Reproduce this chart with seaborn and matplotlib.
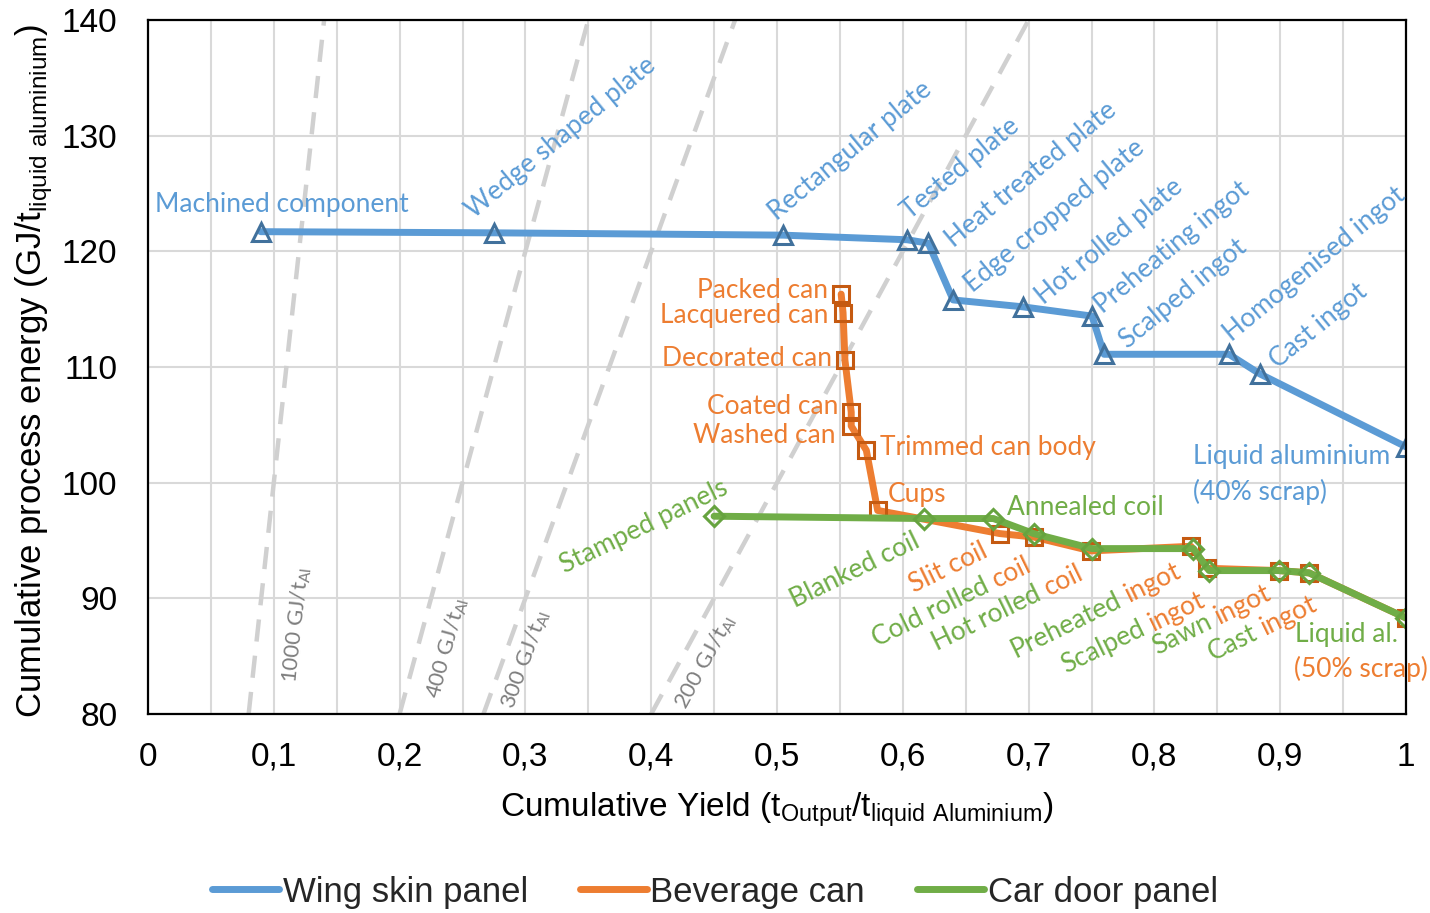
import numpy as np
import matplotlib
matplotlib.use("Agg")
import matplotlib.pyplot as plt
import seaborn as sns
from matplotlib.lines import Line2D

# ---------------- data ----------------
wing_stages = ["Machined component", "Wedge shaped plate", "Rectangular plate", "Tested plate",
               "Heat treated plate", "Edge cropped plate", "Hot rolled plate", "Preheating ingot",
               "Scalped ingot", "Homogenised ingot", "Cast ingot", "Liquid aluminium"]
wing_yield = [0.0895, 0.275, 0.5047, 0.6035, 0.6203, 0.6400, 0.6956, 0.7504, 0.7600, 0.8593, 0.8839, 1.000]
wing_energy = [121.7, 121.6, 121.4, 121.0, 120.7, 115.8, 115.2, 114.4, 111.1, 111.1, 109.4, 103.1]

can_stages = ["Packed can", "Lacquered can", "Decorated can", "Coated can", "Washed can",
              "Trimmed can body", "Cups", "Slit coil", "Cold rolled coil", "Hot rolled coil",
              "Preheated ingot", "Scalped ingot", "Sawn ingot", "Cast ingot", "Liquid al."]
can_yield = [0.551, 0.5525, 0.554, 0.559, 0.559, 0.571, 0.580, 0.677, 0.704, 0.7495,
             0.829, 0.842, 0.899, 0.923, 1.000]
can_energy = [116.3, 114.7, 110.6, 106.1, 104.9, 102.8, 97.6, 95.6, 95.3, 94.1,
              94.5, 92.6, 92.4, 92.2, 88.3]

door_stages = ["Stamped panels", "Blanked coil", "Annealed coil", "Cold rolled coil", "Hot rolled coil",
               "Preheated ingot", "Scalped ingot", "Sawn ingot", "Cast ingot", "Liquid al."]
door_yield = [0.450, 0.617, 0.672, 0.704, 0.7505, 0.831, 0.8435, 0.899, 0.923, 1.000]
door_energy = [97.1, 96.9, 96.9, 95.6, 94.3, 94.3, 92.4, 92.4, 92.2, 88.3]

iso_energy = [1000, 400, 300, 200]          # GJ per tonne of aluminium output
iso_label_energy = [87.7, 85.7, 84.7, 84.5]  # height at which each iso-line is labelled

x_ticks = [0.0, 0.1, 0.2, 0.3, 0.4, 0.5, 0.6, 0.7, 0.8, 0.9, 1.0]
x_tick_labels = ["0", "0,1", "0,2", "0,3", "0,4", "0,5", "0,6", "0,7", "0,8", "0,9", "1"]
y_ticks = [80, 90, 100, 110, 120, 130, 140]

series_names = ["Wing skin panel", "Beverage can", "Car door panel"]

# ---------------- style ----------------
BLUE, ORANGE, GREEN = "#5b9bd5", "#ed7d31", "#70ad47"
BLUE_EDGE, ORANGE_EDGE, GREEN_EDGE = "#41719c", "#c55a11", "#66a33f"
LABEL_FONT = "Lato"
LABEL_SIZE = 19

sns.set_theme(style="white")
plt.rcParams["font.family"] = ["Liberation Sans", "DejaVu Sans"]
plt.rcParams["mathtext.fontset"] = "custom"
plt.rcParams["mathtext.sf"] = "Liberation Sans"
plt.rcParams["mathtext.rm"] = "Lato"

W, H = 1430, 913
fig = plt.figure(figsize=(W / 100, H / 100), dpi=100)
ax = fig.add_axes([148 / W, 1 - 714 / H, (1406 - 148) / W, (714 - 20) / H])
renderer = fig.canvas.get_renderer()

# ---------------- series ----------------
series = [
    (wing_yield, wing_energy, BLUE, BLUE_EDGE, "^", 13),
    (can_yield, can_energy, ORANGE, ORANGE_EDGE, "s", 11),
    (door_yield, door_energy, GREEN, GREEN_EDGE, "D", 10),
]
for k, (xs, ys, col, edge, mk, ms) in enumerate(series):
    sns.lineplot(x=xs, y=ys, ax=ax, sort=False, estimator=None, color=col, lw=5,
                 solid_joinstyle="round", solid_capstyle="round",
                 marker=mk, markersize=ms, markerfacecolor="none",
                 markeredgecolor=edge, markeredgewidth=2.2, zorder=3 + k * 0.2,
                 legend=False)

ax.set_xlim(0, 1)
ax.set_ylim(80, 140)
ax.set_xticks(x_ticks)
ax.set_xticklabels(x_tick_labels)
ax.set_xticks(np.arange(0.05, 1.0, 0.1), minor=True)
ax.set_yticks(y_ticks)
ax.grid(which="both", color="#d9d9d9", lw=1.5, zorder=0)
ax.set_axisbelow(True)
ax.tick_params(which="both", length=0, labelsize=24, colors="black")
ax.tick_params(axis="x", pad=20)
ax.tick_params(axis="y", pad=22)
for sp in ax.spines.values():
    sp.set_color("black")
    sp.set_linewidth(1.6)
    sp.set_zorder(6)

ax.set_xlabel(r"Cumulative Yield (t$_{\mathsf{Output}}$/t$_{\mathsf{liquid\ Aluminium}}$)",
              fontsize=24, color="black", va="top")
ax.xaxis.set_label_coords(0.5, (714 - 790) / 694)
ax.set_ylabel(r"Cumulative process energy (GJ/t$_{\mathsf{liquid\ aluminium}}$)",
              fontsize=25, color="black")
ax.yaxis.set_label_coords((55 - 148) / 1258, 0.494)

# ---------------- iso-energy guide lines ----------------
iso_label_shift = [38, 30, 22, 26]
for E, ylab, sh in zip(iso_energy, iso_label_energy, iso_label_shift):
    xs = np.array([80 / E, 140 / E])
    ax.plot(xs, E * xs, color="#d0d0d0", lw=3.2, dashes=(5, 3.2), zorder=2)
    p0, p1 = ax.transData.transform([(xs[0], 80), (xs[1], 140)])
    ang = np.degrees(np.arctan2(p1[1] - p0[1], p1[0] - p0[0]))
    ax.annotate(f"{E} GJ/t" + r"$_{\mathrm{Al}}$", (ylab / E, ylab), xytext=(sh, 0),
                textcoords="offset pixels", rotation=ang, rotation_mode="anchor",
                ha="center", va="center", color="#7f7f7f", fontsize=16,
                family=LABEL_FONT, zorder=5)


# ---------------- stage labels ----------------
def put(x, y, text, color, dx, dy, rot=0.0, ha="left", va="baseline"):
    ax.annotate(text, (x, y), xytext=(dx, dy), textcoords="offset pixels", color=color,
                rotation=rot, rotation_mode="anchor", ha=ha, va=va,
                fontsize=LABEL_SIZE, family=LABEL_FONT, zorder=7)


def text_width(s):
    t = ax.text(0, 0, s, fontsize=LABEL_SIZE, family=LABEL_FONT)
    w = t.get_window_extent(renderer).width
    t.remove()
    return w


R_BLUE, R_LOW = 39.5, 26.0
wing_place = {
    "Machined component": (-106, 27, 0, "left", "center"),
    "Wedge shaped plate": (-20, 14, R_BLUE, "left", "baseline"),
    "Rectangular plate": (-6, 14, R_BLUE, "left", "baseline"),
    "Tested plate": (3, 20, R_BLUE, "left", "baseline"),
    "Heat treated plate": (25, -5, R_BLUE, "left", "baseline"),
    "Edge cropped plate": (20, 7, R_BLUE, "left", "baseline"),
    "Hot rolled plate": (21, 2, R_BLUE, "left", "baseline"),
    "Preheating ingot": (11, 2, R_BLUE, "left", "baseline"),
    "Scalped ingot": (24, 5, R_BLUE, "left", "baseline"),
    "Homogenised ingot": (3, 12, R_BLUE, "left", "baseline"),
    "Cast ingot": (18, 5, R_BLUE, "left", "baseline"),
    "Liquid aluminium": (-213, -10, 0, "left", "center"),
}
for name, x, y in zip(wing_stages, wing_yield, wing_energy):
    dx, dy, r, ha, va = wing_place[name]
    put(x, y, name, BLUE, dx, dy, r, ha, va)
put(wing_yield[-1], wing_energy[-1], "(40% scrap)", BLUE, -213, -45, 0, "left", "center")

can_place = {
    "Packed can": (-13, 4, 0, "right", "center"),
    "Lacquered can": (-15, -3, 0, "right", "center"),
    "Decorated can": (-13, 2, 0, "right", "center"),
    "Coated can": (-13, 6, 0, "right", "center"),
    "Washed can": (-16, -10, 0, "right", "center"),
    "Trimmed can body": (14, 3, 0, "left", "center"),
    "Cups": (10, 16, 0, "left", "center"),
    "Slit coil": (-86, -59, R_LOW, "left", "baseline"),
}
for name, x, y in zip(can_stages, can_yield, can_energy):
    if name in can_place:
        dx, dy, r, ha, va = can_place[name]
        put(x, y, name, ORANGE, dx, dy, r, ha, va)

door_place = {
    "Stamped panels": (-149, -57, R_LOW, "left", "baseline"),
    "Blanked coil": (-129, -89, R_LOW, "left", "baseline"),
    "Annealed coil": (14, 11, 0, "left", "center"),
}
# stages shared by the can and the door routes: leading words in green, last word in orange
shared_place = {
    "Cold rolled coil": (-157, -113),
    "Hot rolled coil": (-155, -102),
    "Preheated ingot": (-178, -109),
    "Scalped ingot": (-143, -103),
    "Sawn ingot": (-122, -84),
    "Cast ingot": (-96, -88),
}
th = np.radians(R_LOW)
for name, x, y in zip(door_stages, door_yield, door_energy):
    if name in door_place:
        dx, dy, r, ha, va = door_place[name]
        put(x, y, name, GREEN, dx, dy, r, ha, va)
    elif name in shared_place:
        dx, dy = shared_place[name]
        head, tail = name.rsplit(" ", 1)
        off = text_width(name) - text_width(tail)
        put(x, y, head, GREEN, dx, dy, R_LOW)
        put(x, y, tail, ORANGE, dx + off * np.cos(th), dy + off * np.sin(th), R_LOW)
put(door_yield[-1], door_energy[-1], "Liquid al.", GREEN, -111, -17, 0, "left", "center")
put(can_yield[-1], can_energy[-1], "(50% scrap)", ORANGE, -112, -51, 0, "left", "center")

# ---------------- legend ----------------
handles = [Line2D([], [], color=c, lw=5, solid_capstyle="round") for c in (BLUE, ORANGE, GREEN)]
fig.legend(handles, series_names, loc="center", bbox_to_anchor=(0.5, 1 - 892 / H), ncol=3,
           frameon=False, fontsize=25, handlelength=1.93, handletextpad=0.1,
           columnspacing=1.5)

fig.savefig("out.png", dpi=100, facecolor="white")
